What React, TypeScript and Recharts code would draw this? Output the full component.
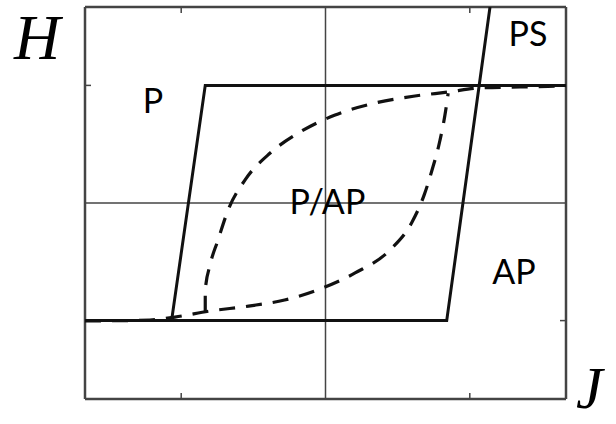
import {
  LineChart,
  Line,
  XAxis,
  YAxis,
  ReferenceLine,
  ReferenceDot,
} from 'recharts';

// solid switching loop (parallelogram), lower-left + right-hand part drawn as two strokes
const solidA = [
  { x: -1, y: -0.6 },
  { x: 0.504, y: -0.6 },
  { x: 0.684, y: 1 },
];
const solidB = [
  { x: -0.64, y: -0.6 },
  { x: -0.5, y: 0.6 },
  { x: 1, y: 0.6 },
];

// dashed minor loop: lower branch then upper branch
const dashedLower = [
  { x: -1, y: -0.602 },
  { x: -0.73, y: -0.597 },
  { x: -0.626, y: -0.582 },
  { x: -0.48, y: -0.551 },
  { x: -0.32, y: -0.526 },
  { x: -0.17, y: -0.495 },
  { x: -0.023, y: -0.439 },
  { x: 0.123, y: -0.357 },
  { x: 0.268, y: -0.24 },
  { x: 0.36, y: -0.097 },
  { x: 0.41, y: 0.04 },
  { x: 0.443, y: 0.168 },
  { x: 0.476, y: 0.32 },
  { x: 0.5, y: 0.474 },
  { x: 0.51, y: 0.56 },
];
const dashedUpper = [
  { x: -0.5, y: -0.556 },
  { x: -0.5, y: -0.444 },
  { x: -0.48, y: -0.316 },
  { x: -0.447, y: -0.189 },
  { x: -0.405, y: -0.036 },
  { x: -0.335, y: 0.117 },
  { x: -0.23, y: 0.255 },
  { x: -0.106, y: 0.362 },
  { x: 0.04, y: 0.449 },
  { x: 0.206, y: 0.51 },
  { x: 0.372, y: 0.546 },
  { x: 0.51, y: 0.566 },
  { x: 0.642, y: 0.587 },
  { x: 0.81, y: 0.592 },
  { x: 1, y: 0.597 },
];

const tickValues = [-0.6, 0.6];

const regionLabels = [
  { text: 'P', x: -0.717, y: 0.52 },
  { text: 'PS', x: 0.842, y: 0.862 },
  { text: 'P/AP', x: 0.008, y: 0.008 },
  { text: 'AP', x: 0.784, y: -0.352 },
];

const frame = '#444';
const ink = '#111';
const labelFont = 'Lato, "Noto Sans", sans-serif';
const axisFont = '"Liberation Serif", "DejaVu Serif", serif';

export default function App() {
  return (
    <div style={{ position: 'absolute', left: 0, top: 0, width: 616, height: 424, overflow: 'hidden', background: '#fff' }}>
      <LineChart width={616} height={424} margin={{ top: 7, right: 50, bottom: 25, left: 85 }}>
        <XAxis type="number" dataKey="x" domain={[-1, 1]} hide allowDataOverflow />
        <YAxis type="number" dataKey="y" domain={[-1, 1]} hide allowDataOverflow />

        {/* centre cross */}
        <ReferenceLine x={0} stroke={frame} strokeWidth={1.5} />
        <ReferenceLine y={0} stroke={frame} strokeWidth={1.5} />

        {/* frame */}
        <ReferenceLine x={-1} stroke={frame} strokeWidth={2.5} />
        <ReferenceLine x={1} stroke={frame} strokeWidth={2.5} />
        <ReferenceLine y={-1} stroke={frame} strokeWidth={2.5} />
        <ReferenceLine y={1} stroke={frame} strokeWidth={2.5} />

        {/* inward tick marks */}
        {tickValues.map((t) => (
          <ReferenceLine key={`tb${t}`} segment={[{ x: t, y: -1 }, { x: t, y: -0.97 }]} stroke={frame} strokeWidth={1.5} />
        ))}
        {tickValues.map((t) => (
          <ReferenceLine key={`tt${t}`} segment={[{ x: t, y: 1 }, { x: t, y: 0.97 }]} stroke={frame} strokeWidth={1.5} />
        ))}
        {tickValues.map((t) => (
          <ReferenceLine key={`tl${t}`} segment={[{ x: -1, y: t }, { x: -0.975, y: t }]} stroke={frame} strokeWidth={1.5} />
        ))}
        {tickValues.map((t) => (
          <ReferenceLine key={`tr${t}`} segment={[{ x: 1, y: t }, { x: 0.975, y: t }]} stroke={frame} strokeWidth={1.5} />
        ))}

        <Line data={dashedLower} dataKey="y" type="monotone" stroke={ink} strokeWidth={3.2} strokeDasharray="16 11" dot={false} isAnimationActive={false} />
        <Line data={dashedUpper} dataKey="y" type="monotone" stroke={ink} strokeWidth={3.2} strokeDasharray="16 11" dot={false} isAnimationActive={false} />
        <Line data={solidA} dataKey="y" type="linear" stroke={ink} strokeWidth={3} dot={false} isAnimationActive={false} />
        <Line data={solidB} dataKey="y" type="linear" stroke={ink} strokeWidth={3} dot={false} isAnimationActive={false} />

        {regionLabels.map((l) => (
          <ReferenceDot
            key={l.text}
            x={l.x}
            y={l.y}
            r={0}
            stroke="none"
            label={{ value: l.text, position: 'center', fill: '#000', fontSize: 34, fontFamily: labelFont }}
          />
        ))}
      </LineChart>
      <div style={{ position: 'absolute', left: 14, top: 1, fontFamily: axisFont, fontStyle: 'italic', fontSize: 64, lineHeight: 'normal', color: '#000' }}>
        H
      </div>
      <div style={{ position: 'absolute', left: 576, top: 354, fontFamily: axisFont, fontStyle: 'italic', fontSize: 60, lineHeight: 'normal', color: '#000' }}>
        J
      </div>
    </div>
  );
}
